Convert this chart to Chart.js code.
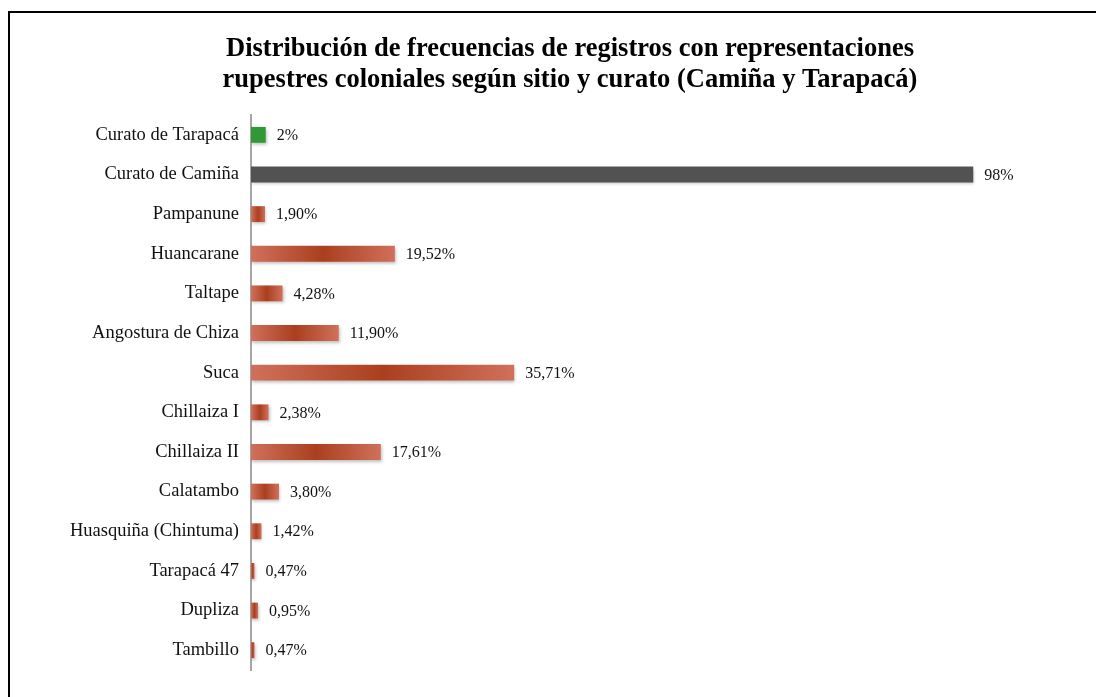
<!DOCTYPE html>
<html>
<head>
<meta charset="utf-8">
<script src="https://cdn.jsdelivr.net/npm/chart.js@4.4.0/dist/chart.umd.min.js"></script>
<style>
  html, body { margin: 0; padding: 0; background: #fff; }
</style>
</head>
<body>
<canvas id="chart" width="1096" height="697"></canvas>
<script>
const sitios = ["Curato de Tarapacá", "Curato de Camiña", "Pampanune", "Huancarane", "Taltape",
  "Angostura de Chiza", "Suca", "Chillaiza I", "Chillaiza II", "Calatambo",
  "Huasquiña (Chintuma)", "Tarapacá 47", "Dupliza", "Tambillo"];
const porcentajes = [2, 98, 1.90, 19.52, 4.28, 11.90, 35.71, 2.38, 17.61, 3.80, 1.42, 0.47, 0.95, 0.47];
const etiquetas = ["2%", "98%", "1,90%", "19,52%", "4,28%", "11,90%", "35,71%", "2,38%",
  "17,61%", "3,80%", "1,42%", "0,47%", "0,95%", "0,47%"];
const titulo = ["Distribución de frecuencias de registros con representaciones",
  "rupestres coloniales según sitio y curato (Camiña y Tarapacá)"];

const serif = "'Liberation Serif', 'Times New Roman', serif";

// frame (only top and left lines) + title, the title is not centred on the canvas in the original
const marco = {
  id: 'marco',
  beforeDraw(chart) {
    const ctx = chart.ctx;
    ctx.save();
    ctx.strokeStyle = '#000';
    ctx.lineWidth = 2;
    ctx.beginPath();
    ctx.moveTo(9, chart.height);
    ctx.lineTo(9, 12);
    ctx.lineTo(chart.width, 12);
    ctx.stroke();

    ctx.fillStyle = '#000';
    ctx.font = 'bold 26.5px ' + serif;
    ctx.textAlign = 'center';
    ctx.textBaseline = 'middle';
    titulo.forEach((t, i) => ctx.fillText(t, 570, 49 + i * 31));
    ctx.restore();
  }
};

// soft shadow under bars
const sombra = {
  id: 'sombra',
  beforeDatasetsDraw(chart) {
    const ctx = chart.ctx;
    ctx.save();
    ctx.shadowColor = 'rgba(0,0,0,0.25)';
    ctx.shadowBlur = 3;
    ctx.shadowOffsetX = 1;
    ctx.shadowOffsetY = 2;
  },
  afterDatasetsDraw(chart) {
    chart.ctx.restore();
  }
};

const valores = {
  id: 'valores',
  afterDatasetsDraw(chart) {
    const ctx = chart.ctx;
    const meta = chart.getDatasetMeta(0);
    ctx.save();
    ctx.font = '16px ' + serif;
    ctx.fillStyle = '#111';
    ctx.textAlign = 'left';
    ctx.textBaseline = 'middle';
    meta.data.forEach((bar, i) => {
      ctx.fillText(etiquetas[i], bar.x + 11, bar.y + 1);
    });
    ctx.restore();
  }
};

function colorBarra(c) {
  if (c.dataIndex === 0) return '#2f9a34';
  if (c.dataIndex === 1) return '#525252';
  const chart = c.chart;
  if (!chart.chartArea) return '#bd5236';
  const x0 = chart.scales.x.getPixelForValue(0);
  const x1 = chart.scales.x.getPixelForValue(porcentajes[c.dataIndex]);
  const g = chart.ctx.createLinearGradient(x0, 0, Math.max(x1, x0 + 1), 0);
  g.addColorStop(0, '#d0705b');
  g.addColorStop(0.5, '#aa3f1e');
  g.addColorStop(1, '#d0705b');
  return g;
}

new Chart(document.getElementById('chart'), {
  type: 'bar',
  data: {
    labels: sitios,
    datasets: [{
      data: porcentajes,
      backgroundColor: colorBarra,
      barPercentage: 0.8,
      categoryPercentage: 0.5
    }]
  },
  plugins: [marco, sombra, valores],
  options: {
    indexAxis: 'y',
    responsive: false,
    animation: false,
    layout: { padding: { left: 0, right: 108, top: 115, bottom: 27 } },
    plugins: {
      legend: { display: false },
      tooltip: { enabled: false }
    },
    scales: {
      x: {
        display: false,
        min: 0,
        max: 100
      },
      y: {
        afterFit(s) { s.width = 251; },
        grid: { display: false, drawTicks: false },
        border: { display: true, color: '#a6a6a6', width: 2 },
        ticks: {
          padding: 12,
          color: '#111',
          font: { family: serif, size: 18.5 }
        }
      }
    }
  }
});
</script>
</body>
</html>
